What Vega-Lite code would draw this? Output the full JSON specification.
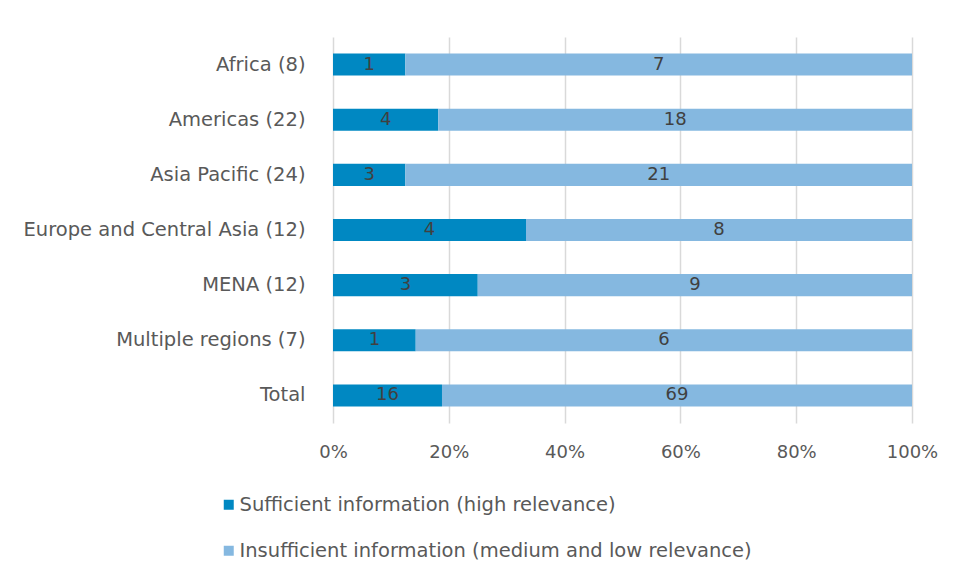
{
  "$schema": "https://vega.github.io/schema/vega-lite/v6.json",
  "width": 579,
  "height": 386,
  "autosize": "none",
  "padding": {"left": 333, "top": 37, "right": 44, "bottom": 158},
  "background": "white",
  "config": {
    "font": "DejaVu Sans",
    "view": {"stroke": null}
  },
  "data": {
    "values": [
      {"region": "Africa (8)", "category": "Sufficient information (high relevance)", "order": 1, "count": 1},
      {"region": "Africa (8)", "category": "Insufficient information (medium and low relevance)", "order": 2, "count": 7},
      {"region": "Americas (22)", "category": "Sufficient information (high relevance)", "order": 1, "count": 4},
      {"region": "Americas (22)", "category": "Insufficient information (medium and low relevance)", "order": 2, "count": 18},
      {"region": "Asia Pacific (24)", "category": "Sufficient information (high relevance)", "order": 1, "count": 3},
      {"region": "Asia Pacific (24)", "category": "Insufficient information (medium and low relevance)", "order": 2, "count": 21},
      {"region": "Europe and Central Asia (12)", "category": "Sufficient information (high relevance)", "order": 1, "count": 4},
      {"region": "Europe and Central Asia (12)", "category": "Insufficient information (medium and low relevance)", "order": 2, "count": 8},
      {"region": "MENA (12)", "category": "Sufficient information (high relevance)", "order": 1, "count": 3},
      {"region": "MENA (12)", "category": "Insufficient information (medium and low relevance)", "order": 2, "count": 9},
      {"region": "Multiple regions (7)", "category": "Sufficient information (high relevance)", "order": 1, "count": 1},
      {"region": "Multiple regions (7)", "category": "Insufficient information (medium and low relevance)", "order": 2, "count": 6},
      {"region": "Total", "category": "Sufficient information (high relevance)", "order": 1, "count": 16},
      {"region": "Total", "category": "Insufficient information (medium and low relevance)", "order": 2, "count": 69}
    ]
  },
  "transform": [
    {"stack": "count", "groupby": ["region"], "sort": [{"field": "order"}], "offset": "normalize", "as": ["x0", "x1"]},
    {"calculate": "(datum.x0 + datum.x1) / 2", "as": "mid"}
  ],
  "encoding": {
    "y": {
      "field": "region",
      "type": "nominal",
      "sort": ["Africa (8)", "Americas (22)", "Asia Pacific (24)", "Europe and Central Asia (12)", "MENA (12)", "Multiple regions (7)", "Total"],
      "scale": {"paddingInner": 0.6, "paddingOuter": 0.3},
      "axis": {
        "title": null,
        "ticks": false,
        "domain": false,
        "labelFontSize": 19.5,
        "labelColor": "#595959",
        "labelPadding": 28,
        "labelLimit": 400
      }
    }
  },
  "layer": [
    {
      "mark": {"type": "bar"},
      "encoding": {
        "x": {
          "field": "x0",
          "type": "quantitative",
          "scale": {"domain": [0, 1], "nice": false},
          "axis": {
            "title": null,
            "format": "%",
            "values": [0, 0.2, 0.4, 0.6, 0.8, 1],
            "grid": true,
            "gridColor": "#d9d9d9",
            "gridWidth": 1.5,
            "domain": false,
            "ticks": false,
            "labelFlush": false,
            "labelFontSize": 18,
            "labelColor": "#595959",
            "labelPadding": 20
          }
        },
        "x2": {"field": "x1"},
        "color": {
          "field": "category",
          "type": "nominal",
          "scale": {
            "domain": ["Sufficient information (high relevance)", "Insufficient information (medium and low relevance)"],
            "range": ["#0088c2", "#85b8e0"]
          },
          "legend": {
            "title": null,
            "orient": "none",
            "direction": "vertical",
            "legendX": -114,
            "legendY": 458,
            "symbolType": "square",
            "symbolSize": 100,
            "symbolStrokeWidth": 0,
            "labelFontSize": 19.5,
            "labelColor": "#595959",
            "labelOffset": 1,
            "rowPadding": 25,
            "labelLimit": 700
          }
        }
      }
    },
    {
      "mark": {"type": "text", "fontSize": 18, "color": "#404040", "baseline": "middle"},
      "encoding": {
        "x": {"field": "mid", "type": "quantitative"},
        "text": {"field": "count", "type": "quantitative"}
      }
    }
  ]
}
